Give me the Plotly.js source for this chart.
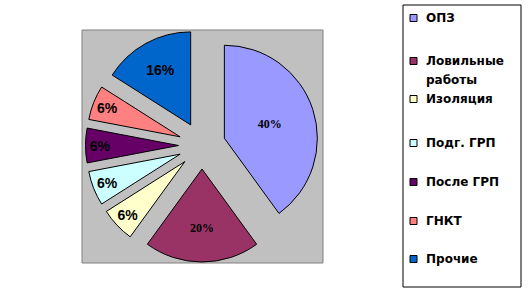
<!DOCTYPE html>
<html>
<head>
<meta charset="utf-8">
<script src="https://cdn.plot.ly/plotly-3.0.1.min.js"></script>
<style>html,body{margin:0;padding:0;background:#fff;}#chart{width:531px;height:293px;}</style>
</head>
<body>
<div id="chart"></div>
<script>
// ---- data ----
const categories = ['ОПЗ', 'Ловильные работы', 'Изоляция', 'Подг. ГРП', 'После ГРП', 'ГНКТ', 'Прочие'];
const values = [40, 20, 6, 6, 6, 6, 16];
const colors = ['#9999FF', '#993366', '#FFFFCC', '#CCFFFF', '#660066', '#FF8080', '#0066CC'];
const labelFonts = ['Liberation Serif', 'Liberation Serif', 'Liberation Sans', 'Liberation Sans', 'Liberation Sans', 'Liberation Sans', 'Liberation Sans'];
const labelSizes = [12, 12, 14, 14, 14, 14, 14];

// ---- layout helpers ----
const W = 531, H = 293;
const px = x => x / W;
const py = y => 1 - y / H;

const trace = {
  type: 'pie',
  labels: categories,
  values: values,
  sort: false,
  direction: 'clockwise',
  rotation: 0,
  pull: values.map(() => 0.253),
  marker: { colors: colors, line: { color: '#000000', width: 1 } },
  textinfo: 'percent',
  textposition: 'inside',
  insidetextorientation: 'horizontal',
  insidetextfont: { family: labelFonts, size: labelSizes, color: '#000000', weight: 'bold' },
  hoverinfo: 'none',
  domain: { x: [px(85.5), px(318.5)], y: [py(262), py(29)] },
  showlegend: false
};

const shapes = [
  { type: 'rect', xref: 'paper', yref: 'paper', layer: 'below',
    x0: px(82), x1: px(323), y0: py(263), y1: py(30),
    fillcolor: '#C0C0C0', line: { color: '#808080', width: 1 } },
  { type: 'rect', xref: 'paper', yref: 'paper', layer: 'below',
    x0: px(403), x1: px(521), y0: py(287), y1: py(5),
    fillcolor: '#FFFFFF', line: { color: '#000000', width: 1 } }
];
const annotations = [];
const rowY = [18, 61, 99, 143, 182, 221, 259];
const legendFont = { family: 'DejaVu Sans', size: 12, color: '#000000', weight: 'bold' };
categories.forEach((c, i) => {
  const y = rowY[i];
  shapes.push({ type: 'rect', xref: 'paper', yref: 'paper',
    x0: px(410), x1: px(417), y0: py(y + 3.5), y1: py(y - 3.5),
    fillcolor: colors[i], line: { color: '#000000', width: 1 } });
  const lines = c.length > 12 ? c.split(' ') : [c];
  lines.forEach((t, j) => {
    annotations.push({ xref: 'paper', yref: 'paper', x: px(424), y: py(y + j * 19),
      xanchor: 'left', yanchor: 'middle', text: '<b>' + t + '</b>', showarrow: false,
      font: legendFont });
  });
});

const layout = {
  width: W, height: H,
  margin: { l: 0, r: 0, t: 0, b: 0 },
  paper_bgcolor: '#FFFFFF',
  showlegend: false,
  shapes: shapes,
  annotations: annotations
};

Plotly.newPlot('chart', [trace], layout, { staticPlot: true, displayModeBar: false });
</script>
</body>
</html>
